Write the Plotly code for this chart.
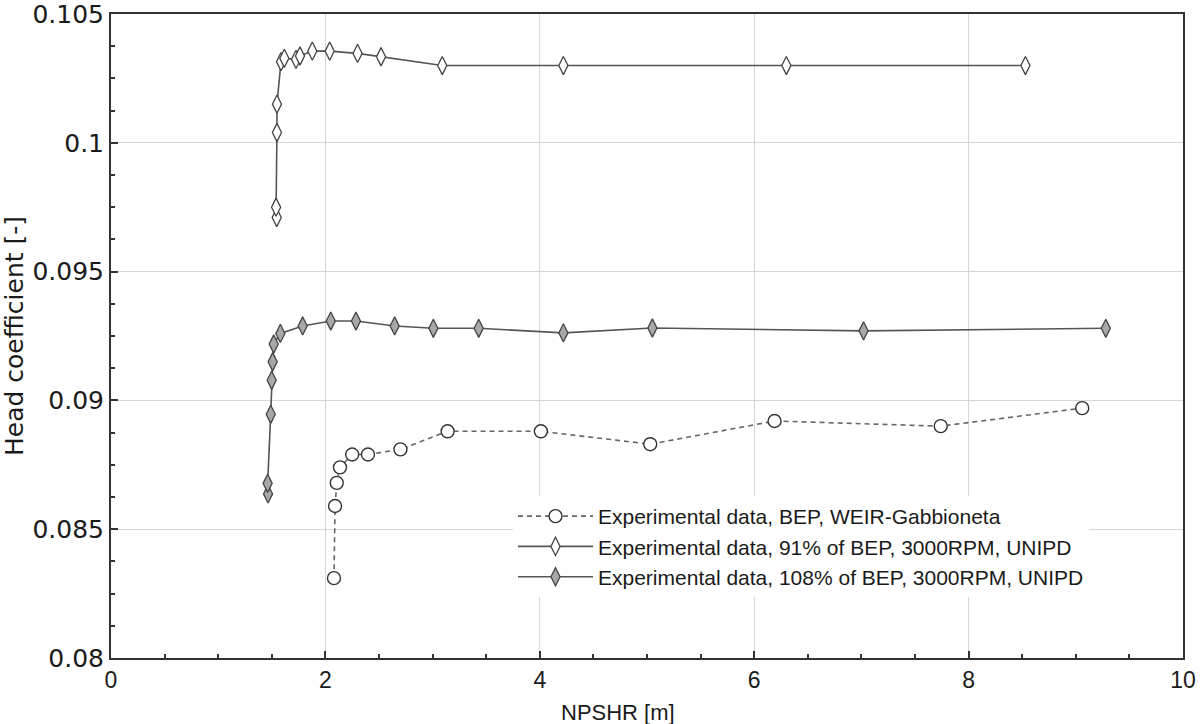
import plotly.graph_objects as go

# ---- data ----
bep_x = [2.08, 2.09, 2.106, 2.136, 2.25, 2.397, 2.70, 3.14, 4.01, 5.03, 6.19, 7.74, 9.06]
bep_y = [0.0831, 0.0859, 0.0868, 0.0874, 0.0879, 0.0879, 0.0881, 0.0888, 0.0888, 0.0883, 0.0892, 0.0890, 0.0897]

p91_x = [1.546, 1.54, 1.548, 1.548, 1.586, 1.617, 1.726, 1.763, 1.878, 2.04, 2.30, 2.519, 3.09, 4.22, 6.30, 8.53]
p91_y = [0.0971, 0.0975, 0.1004, 0.1015, 0.10315, 0.10328, 0.10324, 0.10337, 0.10356, 0.10356, 0.10347, 0.10334, 0.10300, 0.10300, 0.10300, 0.10300]

p108_x = [1.465, 1.461, 1.49, 1.499, 1.508, 1.518, 1.58, 1.788, 2.05, 2.285, 2.646, 3.007, 3.43, 4.22, 5.05, 7.02, 9.28]
p108_y = [0.08637, 0.08678, 0.08946, 0.09078, 0.0915, 0.09219, 0.0926, 0.09289, 0.09308, 0.09308, 0.09289, 0.09280, 0.09280, 0.09262, 0.09281, 0.09270, 0.09280]

names = ["Experimental data, BEP, WEIR-Gabbioneta",
         "Experimental data, 91% of BEP, 3000RPM, UNIPD",
         "Experimental data, 108% of BEP, 3000RPM, UNIPD"]

x_ticks = [0, 2, 4, 6, 8, 10]
x_tick_text = ["0", "2", "4", "6", "8", "10"]
y_ticks = [0.08, 0.085, 0.09, 0.095, 0.1, 0.105]
y_tick_text = ["0.08", "0.085", "0.09", "0.095", "0.1", "0.105"]

x_title = "NPSHR [m]"
y_title = "Head coefficient [-]"

SANS = "Liberation Sans, Arial, sans-serif"
DEJA = "DejaVu Sans, Verdana, sans-serif"

fig = go.Figure()
fig.add_trace(go.Scatter(
    x=bep_x, y=bep_y, name=names[0], mode="lines+markers",
    line=dict(color="#666666", width=1.6, dash="5px,4px"),
    marker=dict(symbol="circle", size=13, color="white",
                line=dict(color="#333333", width=1.4))))
fig.add_trace(go.Scatter(
    x=p91_x, y=p91_y, name=names[1], mode="lines+markers",
    line=dict(color="#555555", width=1.6),
    marker=dict(symbol="diamond-tall", size=13, color="white",
                line=dict(color="#444444", width=1.3))))
fig.add_trace(go.Scatter(
    x=p108_x, y=p108_y, name=names[2], mode="lines+markers",
    line=dict(color="#555555", width=1.6),
    marker=dict(symbol="diamond-tall", size=13, color="#a8a8a8",
                line=dict(color="#444444", width=1.3))))

fig.update_layout(
    width=1202, height=724,
    margin=dict(l=111, r=19, t=14, b=66, autoexpand=False),
    paper_bgcolor="white", plot_bgcolor="white",
    showlegend=True,
    legend=dict(x=0.375, y=0.2516, xanchor="left", yanchor="top",
                bgcolor="white", borderwidth=0,
                font=dict(family=SANS, size=21, color="#1a1a1a"),
                itemwidth=75, tracegroupgap=0),
    annotations=[dict(text=x_title, xref="paper", yref="paper",
                      x=0.473, y=-0.084, xanchor="center", yanchor="middle",
                      showarrow=False,
                      font=dict(family=SANS, size=22, color="#1a1a1a"))],
)
fig.update_xaxes(
    range=[0, 10], tickvals=x_ticks, ticktext=x_tick_text, automargin=False,
    ticklabeloverflow="allow",
    showline=True, linecolor="#333333", linewidth=2, mirror=True,
    ticks="inside", ticklen=7, tickcolor="#333333", tickwidth=1.5,
    showgrid=True, gridcolor="#d6d6d6", gridwidth=1.2, zeroline=False,
    minor=dict(dtick=0.5, ticks="inside", ticklen=4, tickcolor="#333333", showgrid=False),
    tickfont=dict(family=SANS, size=23, color="#1a1a1a"),
)
fig.update_yaxes(
    range=[0.0799999, 0.1050001], tickvals=y_ticks, ticktext=y_tick_text, automargin=False,
    ticklabeloverflow="allow",
    showline=True, linecolor="#333333", linewidth=2, mirror=True,
    ticks="inside", ticklen=7, tickcolor="#333333", tickwidth=1.5,
    showgrid=True, gridcolor="#d6d6d6", gridwidth=1.2, zeroline=False,
    minor=dict(dtick=0.00125, ticks="inside", ticklen=4, tickcolor="#333333", showgrid=False),
    tickfont=dict(family=DEJA, size=25, color="#1a1a1a"),
    title=dict(text=y_title, standoff=6,
               font=dict(family=DEJA, size=25, color="#1a1a1a")),
)

# remove the page's default body margin so the figure fills the window exactly
fig.write_html("out.html",
               config={"displayModeBar": False},
               post_script="document.body.style.margin='0';document.body.style.overflow='hidden';")
